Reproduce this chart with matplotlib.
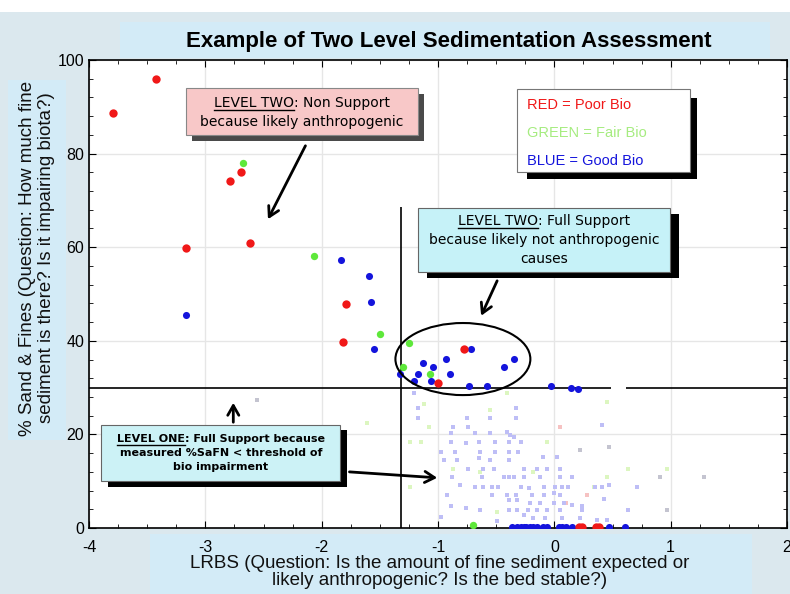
import matplotlib.pyplot as plt
import matplotlib.patches as mpatches
from matplotlib.lines import Line2D

plt.rcParams['axes.unicode_minus'] = False

# ---- data (LRBS, % sand & fines) ----
red_x = [-3.79, -3.42, -2.69, -2.79, -3.17, -2.62, -1.79, -1.82, -0.78, -1.00, 0.21, 0.24, 0.36, 0.38]
red_y = [88.6, 95.9, 76.1, 74.1, 59.9, 60.9, 47.8, 39.8, 38.2, 31.0, 0.3, 0.3, 0.3, 0.3]

green_x = [-2.68, -2.07, -1.50, -1.25, -1.30, -1.07, -0.70]
green_y = [77.9, 58.2, 41.5, 39.6, 34.5, 32.8, 0.6]

blue_x = [-1.83, -1.59, -1.58, -3.17, -1.55, -0.72, -0.35, -0.93, -1.13, -1.04, -0.43,
          -1.17, -0.90, -1.33, -1.21, -1.06, -0.73, -0.58, -0.03, 0.14, 0.20,
          -0.36, -0.32, -0.29, -0.26, -0.24, -0.21, -0.18, -0.15, -0.10, -0.06,
          0.04, 0.07, 0.10, 0.15, 0.47, 0.61]
blue_y = [57.3, 53.8, 48.2, 45.5, 38.3, 38.3, 36.1, 36.2, 35.2, 34.5, 34.5,
          32.8, 32.8, 33.0, 31.4, 31.4, 30.4, 30.4, 30.4, 29.9, 29.7,
          0.3, 0.3, 0.3, 0.3, 0.3, 0.3, 0.3, 0.3, 0.3, 0.3,
          0.3, 0.3, 0.3, 0.3, 0.3, 0.3]

# faded sites below the threshold (level one)
fblue_x = [-1.21, -1.17, -1.17, -0.33, -0.33, -0.55, -0.75, -0.87, -0.74, -0.89, -0.68, -0.55,
           -0.41, -0.38, -0.35, -0.89, -0.76, -0.65, -0.51, -0.39, -0.29, -0.97, -0.85, -0.64,
           -0.51, -0.39, -0.31, -0.95, -0.84, -0.65, -0.55, -0.39, -0.10, 0.02, -0.74, -0.61,
           -0.52, -0.26, -0.15, -0.06, 0.05, -0.88, -0.62, -0.43, -0.39, -0.35, -0.26, -0.12,
           0.05, 0.15, -0.81, -0.68, -0.61, -0.54, -0.48, -0.29, -0.22, -0.09, 0.01, 0.07,
           0.12, 0.35, 0.41, 0.47, -0.92, -0.54, -0.41, -0.33, -0.19, -0.09, 0.00, 0.05,
           -0.39, -0.32, -0.21, -0.12, 0.00, 0.08, 0.15, 0.24, 0.43, -0.89, -0.76, -0.64,
           -0.39, -0.32, -0.23, -0.15, -0.06, 0.05, 0.24, -0.97, -0.49, -0.26, -0.18, -0.08,
           0.07, 0.22, 0.37, 0.45, 0.41, 0.71, 0.63]
fblue_y = [28.8, 25.6, 23.4, 25.6, 23.4, 23.4, 23.4, 21.6, 21.6, 20.2, 20.2, 20.2,
           20.6, 19.9, 19.5, 18.4, 18.1, 18.4, 18.4, 18.4, 18.4, 16.3, 16.3, 16.3,
           16.3, 16.3, 16.3, 14.5, 14.5, 14.9, 14.5, 14.5, 15.2, 15.2, 12.7, 12.7,
           12.7, 12.7, 12.7, 12.7, 12.7, 11.0, 11.0, 11.0, 11.0, 11.0, 11.0, 11.0,
           11.0, 11.0, 9.2, 8.8, 8.8, 8.8, 8.8, 8.8, 8.5, 8.8, 8.8, 8.8,
           8.8, 8.8, 8.8, 9.2, 7.0, 7.0, 7.0, 7.0, 7.0, 7.0, 7.4, 7.0,
           6.0, 6.0, 5.3, 5.3, 5.3, 5.3, 4.9, 4.6, 6.3, 4.6, 4.2, 3.8,
           3.8, 3.8, 3.8, 3.8, 3.8, 3.8, 3.8, 2.4, 1.4, 2.8, 2.1, 2.1,
           2.1, 2.1, 1.7, 1.7, 22.0, 8.8, 3.8]
fgreen_x = [-1.12, -1.08, -1.24, -1.15, -0.87, -0.64, -0.18, -0.06, -0.55, -0.41,
            0.45, 0.63, 0.97, 0.45, -1.24, 0.34, -0.49, -1.61]
fgreen_y = [26.6, 21.6, 18.4, 18.4, 12.7, 12.0, 12.0, 18.4, 25.2, 28.8,
            27.0, 12.7, 12.7, 11.0, 8.8, 8.8, 3.5, 22.4]
fred_x = [0.05, 0.28, 0.10]
fred_y = [21.6, 7.0, 5.3]
fgray_x = [0.22, 0.47, 0.91, 1.29, 0.97, -2.56]
fgray_y = [16.7, 17.4, 11.0, 11.0, 3.8, 27.4]

threshold = 30
lrbs_cut = -1.32

W, H = 790, 594
fig = plt.figure(figsize=(W / 100, H / 100), dpi=100)
fig.patch.set_facecolor('#dbe8ee')


def fr(x, y):
    # pixel (from top-left) -> figure fraction
    return x / W, 1 - y / H


def fig_rect(x0, y0, x1, y1, color, z=0.5, ec='none', lw=0):
    r = mpatches.Rectangle(fr(x0, y1), (x1 - x0) / W, (y1 - y0) / H,
                           transform=fig.transFigure, facecolor=color,
                           edgecolor=ec, linewidth=lw, zorder=z)
    fig.add_artist(r)


# background panels
fig_rect(0, 0, W, 12, 'white', z=-1)
fig_rect(120, 22, 770, 58, '#d3ebf7', z=-1)
fig_rect(150, 534, 752, H, '#d3ebf7', z=-1)
fig_rect(8, 80, 66, 440, '#d3ebf7', z=-1)

ax = fig.add_axes([89 / W, 66 / H, 698 / W, 468 / H])
ax.set_facecolor('white')

ax.scatter(fgray_x, fgray_y, marker='s', s=10, c='#c4c4d0', zorder=2, linewidths=0)
ax.scatter(fgreen_x, fgreen_y, marker='s', s=12, c='#dcf6c0', zorder=2, linewidths=0)
ax.scatter(fred_x, fred_y, marker='s', s=12, c='#f6c2c2', zorder=2, linewidths=0)
ax.scatter(fblue_x, fblue_y, marker='s', s=12, c='#bebef6', zorder=2, linewidths=0)

ax.scatter(green_x, green_y, s=28, c='#5ee83a', zorder=4, linewidths=0)
ax.scatter(blue_x, blue_y, s=26, c='#1414dc', zorder=4, linewidths=0)
ax.scatter(red_x, red_y, s=36, c='#f01818', zorder=5, linewidths=0)

ax.hlines(threshold, -4, 0.49, colors='black', lw=1.2, zorder=3)
ax.hlines(threshold, 0.62, 2, colors='black', lw=1.2, zorder=3)
ax.vlines(lrbs_cut, 0, 68.5, colors='black', lw=1.2, zorder=3)
ax.add_patch(mpatches.Ellipse((-0.786, 36.1), 1.16, 15.4, fill=False, ec='black', lw=1.5, zorder=6))

ax.set_xlim(-4, 2)
ax.set_ylim(0, 100)
ax.set_xticks([-4, -3, -2, -1, 0, 1, 2])
ax.set_xticks([i * 0.25 - 4 for i in range(25)], minor=True)
ax.set_yticks([0, 20, 40, 60, 80, 100])
ax.set_yticks(list(range(0, 101, 4)), minor=True)
ax.grid(True, which='major', color='#e6e6e6', lw=1)
ax.set_axisbelow(True)
ax.tick_params(which='both', direction='in', top=True, right=True, labelsize=11.5, colors='black')
ax.tick_params(which='major', length=5)
ax.tick_params(which='minor', length=3)
ax.tick_params(axis='x', pad=9)
for lab in ax.get_xticklabels() + ax.get_yticklabels():
    lab.set_fontfamily('Liberation Sans')
for s in ax.spines.values():
    s.set_linewidth(1.2)

fig.text(*fr(449, 42), 'Example of Two Level Sedimentation Assessment', ha='center', va='center',
         fontsize=16, fontweight='bold', family='Liberation Sans')
fig.text(*fr(440, 572), 'LRBS (Question: Is the amount of fine sediment expected or\n'
         'likely anthropogenic? Is the bed stable?)', ha='center', va='center',
         fontsize=13.5, family='Liberation Sans', linespacing=1.05, color='#111111')
fig.text(*fr(37, 258), '% Sand & Fines (Question: How much fine\n'
         'sediment is there? Is it impairing biota?)', ha='center', va='center', rotation=90,
         fontsize=13.5, family='Liberation Sans', linespacing=1.1, color='#111111')

renderer = fig.canvas.get_renderer()


def underlined(cx, base, ul, rest, **kw):
    t1 = fig.text(0, 0, ul, va='baseline', ha='left', zorder=5, **kw)
    t2 = fig.text(0, 0, rest, va='baseline', ha='left', zorder=5, **kw)
    w1 = t1.get_window_extent(renderer).width
    w2 = t2.get_window_extent(renderer).width
    left = cx - (w1 + w2) / 2
    t1.set_position(fr(left, base))
    t2.set_position(fr(left + w1, base))
    xs, ys = zip(fr(left, base + 2.5), fr(left + w1, base + 2.5))
    fig.add_artist(Line2D(xs, ys, transform=fig.transFigure, color='black', lw=1, zorder=5))


def centred(cx, base, txt, **kw):
    fig.text(*fr(cx, base), txt, ha='center', va='baseline', zorder=5, **kw)


# pink box: level two non support
fig_rect(192, 94, 424, 141, '#4a4a4a', z=3)
fig_rect(186, 88, 418, 135, '#f8c8c8', z=4, ec='#888888', lw=0.8)
underlined(302, 107, 'LEVEL TWO', ': Non Support', fontsize=10, family='DejaVu Sans')
centred(302, 126, 'because likely anthropogenic', fontsize=10, family='DejaVu Sans')

# cyan box: level two full support
fig_rect(427, 214, 679, 278, 'black', z=3)
fig_rect(418, 208, 670, 272, '#c6f2f8', z=4, ec='#666666', lw=0.8)
underlined(544, 225, 'LEVEL TWO', ': Full Support', fontsize=10, family='DejaVu Sans')
centred(544, 244, 'because likely not anthropogenic', fontsize=10, family='DejaVu Sans')
centred(544, 263, 'causes', fontsize=10, family='DejaVu Sans')

# legend box
fig_rect(527, 98, 697, 179, 'black', z=3)
fig_rect(517, 89, 690, 172, 'white', z=4, ec='#777777', lw=0.8)
fig.text(*fr(527, 109), 'RED = Poor Bio', color='#f01818', fontsize=10.5, family='Liberation Sans', zorder=5)
fig.text(*fr(527, 137), 'GREEN = Fair Bio', color='#a6ec80', fontsize=10.5, family='Liberation Sans', zorder=5)
fig.text(*fr(527, 165), 'BLUE = Good Bio', color='#1414dc', fontsize=10.5, family='Liberation Sans', zorder=5)

# level one box
fig_rect(108, 430, 347, 487, 'black', z=3)
fig_rect(101, 425, 340, 481, '#ccf2f6', z=4, ec='#666666', lw=0.8)
underlined(221, 442, 'LEVEL ONE', ': Full Support because', fontsize=8, fontweight='bold',
           family='DejaVu Sans')
centred(221, 456, 'measured %SaFN < threshold of', fontsize=8, fontweight='bold', family='DejaVu Sans')
centred(221, 470, 'bio impairment', fontsize=8, fontweight='bold', family='DejaVu Sans')

# arrows
arrows = [((306.7, 143.3), (266.7, 221.7)),
          ((498.3, 278.3), (480.0, 318.3)),
          ((233.3, 425.0), (233.3, 400.0)),
          ((346.7, 471.7), (440.0, 478.0))]
for start, end in arrows:
    ann = mpatches.FancyArrowPatch(fr(*start), fr(*end), transform=fig.transFigure,
                                   arrowstyle='->,head_length=7,head_width=4',
                                   color='black', lw=2, zorder=6)
    fig.add_artist(ann)

fig.savefig('out.png', dpi=100, facecolor=fig.get_facecolor())
